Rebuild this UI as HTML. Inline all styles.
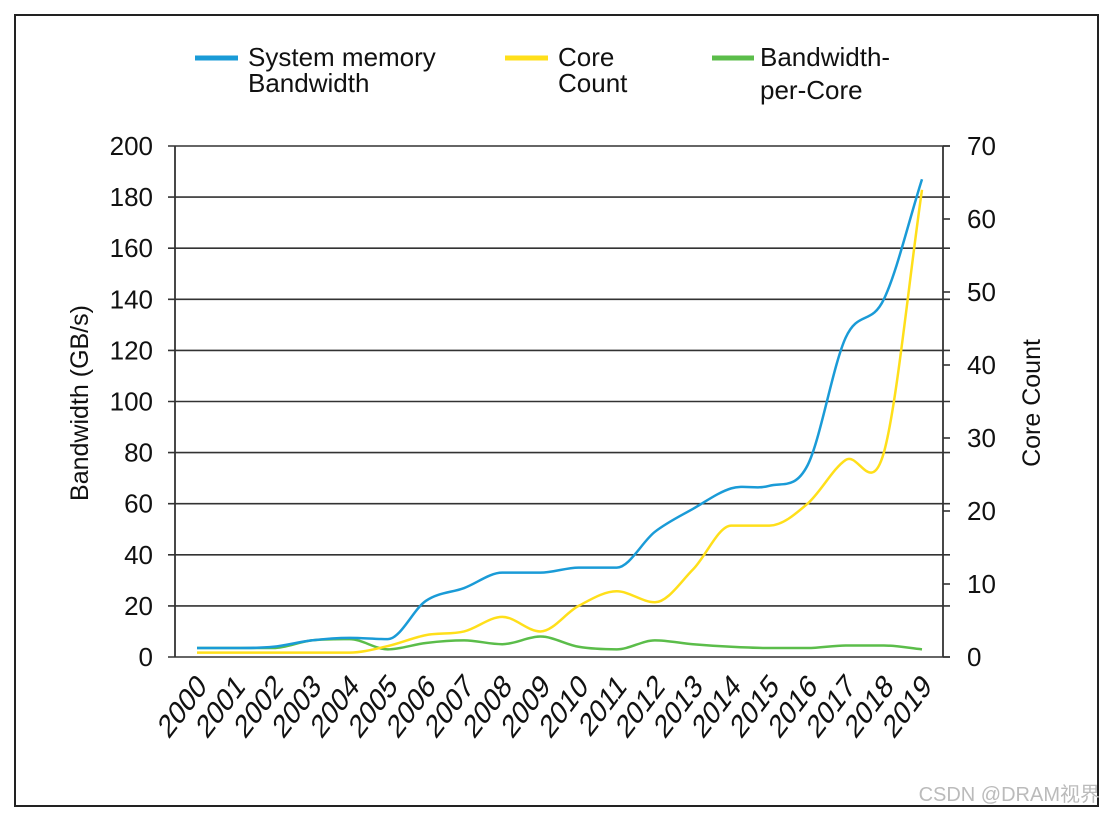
<!DOCTYPE html>
<html><head><meta charset="utf-8"><style>
html,body{margin:0;padding:0;background:#fff;}
svg{display:block;font-family:"Liberation Sans","Noto Sans CJK SC",sans-serif;}
</style></head><body>
<svg id="chart" width="1108" height="814" viewBox="0 0 1108 814" xmlns="http://www.w3.org/2000/svg">
<rect x="15" y="15" width="1083" height="791" fill="#fff" stroke="#222" stroke-width="2"/>
<g id="grid"></g>
<g id="axes"></g>
<g id="series"></g>
<g font-size="26" fill="#111">
<g><line x1="195" y1="58" x2="238" y2="58" stroke="#1a9bd7" stroke-width="5"/><text x="248" y="66">System memory</text><text x="248" y="92">Bandwidth</text></g>
<g><line x1="505" y1="58" x2="548" y2="58" stroke="#ffdf1a" stroke-width="5"/><text x="558" y="66">Core</text><text x="558" y="92">Count</text></g>
<g><line x1="712" y1="58" x2="754" y2="58" stroke="#5bbd4a" stroke-width="5"/><text x="760" y="66">Bandwidth-</text><text x="760" y="99">per-Core</text></g>
</g>
<text transform="translate(88,403) rotate(-90)" text-anchor="middle" font-size="25" fill="#111">Bandwidth (GB/s)</text>
<text transform="translate(1040,403) rotate(-90)" text-anchor="middle" font-size="25" fill="#111">Core Count</text>
<text x="1100" y="801" text-anchor="end" font-size="20" fill="#bbb">CSDN @DRAM视界</text>
</svg>
<script>
const years = ["2000","2001","2002","2003","2004","2005","2006","2007","2008","2009","2010","2011","2012","2013","2014","2015","2016","2017","2018","2019"];
const bandwidth = [3.5,3.5,4,6.5,7.5,7,22,27,33,33,35,35,49,58,66,67,75,125,140,187];
const coreCount = [0.6,0.6,0.6,0.6,0.6,1.5,3,3.5,5.5,3.5,7,9,7.5,12,18,18,21,27,28,64];
const bwPerCore = [3.5,3.5,3.5,6.5,7,3,5.5,6.5,5,8,4,3,6.5,5,4,3.5,3.5,4.5,4.5,3];
const leftTicks = [0,20,40,60,80,100,120,140,160,180,200];
const rightTicks = [0,10,20,30,40,50,60,70];

const NS="http://www.w3.org/2000/svg";
const X0=175, X1=943, Y0=657, Y1=146;
const xPos=i=>197+i*(922-197)/(years.length-1);
const yL=v=>Y0-(v/200)*(Y0-Y1);
const yR=v=>Y0-(v/70)*(Y0-Y1);
function mk(tag,attrs,parent){const e=document.createElementNS(NS,tag);for(const k in attrs)e.setAttribute(k,attrs[k]);parent.appendChild(e);return e;}
const grid=document.getElementById('grid'), axes=document.getElementById('axes'), series=document.getElementById('series');

leftTicks.forEach(v=>{
  const y=yL(v);
  const l=mk('line',{x1:168,y1:y,x2:950,y2:y,stroke:'#333','stroke-width':1.6},grid);
  
  
  const t=mk('text',{x:153,y:y+9,'text-anchor':'end','font-size':26,fill:'#111'},axes);
  t.textContent=v;
  
  
});
rightTicks.forEach(v=>{
  const y=yR(v);
  const l=mk('line',{x1:943,y1:y,x2:950,y2:y,stroke:'#333','stroke-width':1.6},axes);
  
  
  const t=mk('text',{x:967,y:y+9,'font-size':26,fill:'#111'},axes);
  t.textContent=v;
  
  
});
const la=mk('line',{x1:X0,y1:Y1,x2:X0,y2:Y0,stroke:'#333','stroke-width':1.8},axes);


const ra=mk('line',{x1:X1,y1:Y1,x2:X1,y2:Y0,stroke:'#333','stroke-width':1.8},axes);


years.forEach((yr,i)=>{
  const x=xPos(i)+11;
  const t=mk('text',{x:0,y:0,transform:`translate(${x},688) scale(1,1.32) rotate(-45)`,'text-anchor':'end','font-size':25,fill:'#111'},axes);
  t.textContent=yr;
  
  
});

function smoothPath(pts){
  const n=pts.length, d=[], m=[];
  for(let i=0;i<n-1;i++)d.push((pts[i+1][1]-pts[i][1])/(pts[i+1][0]-pts[i][0]));
  m[0]=d[0]; m[n-1]=d[n-2];
  for(let i=1;i<n-1;i++)m[i]=(d[i-1]*d[i]<=0)?0:(d[i-1]+d[i])/2;
  let s=`M${pts[0][0]},${pts[0][1]}`;
  for(let i=0;i<n-1;i++){
    const h=(pts[i+1][0]-pts[i][0])/3;
    s+=` C${pts[i][0]+h},${pts[i][1]+m[i]*h} ${pts[i+1][0]-h},${pts[i+1][1]-m[i+1]*h} ${pts[i+1][0]},${pts[i+1][1]}`;
  }
  return s;
}
const gp=mk('path',{d:smoothPath(bwPerCore.map((v,i)=>[xPos(i),yL(v)])),fill:'none',stroke:'#5bbd4a','stroke-width':2.5},series);


const yp=mk('path',{d:smoothPath(coreCount.map((v,i)=>[xPos(i),yR(v)])),fill:'none',stroke:'#ffdf1a','stroke-width':2.5},series);


const bp=mk('path',{d:smoothPath(bandwidth.map((v,i)=>[xPos(i),yL(v)])),fill:'none',stroke:'#1a9bd7','stroke-width':2.5},series);


</script>
</body></html>
